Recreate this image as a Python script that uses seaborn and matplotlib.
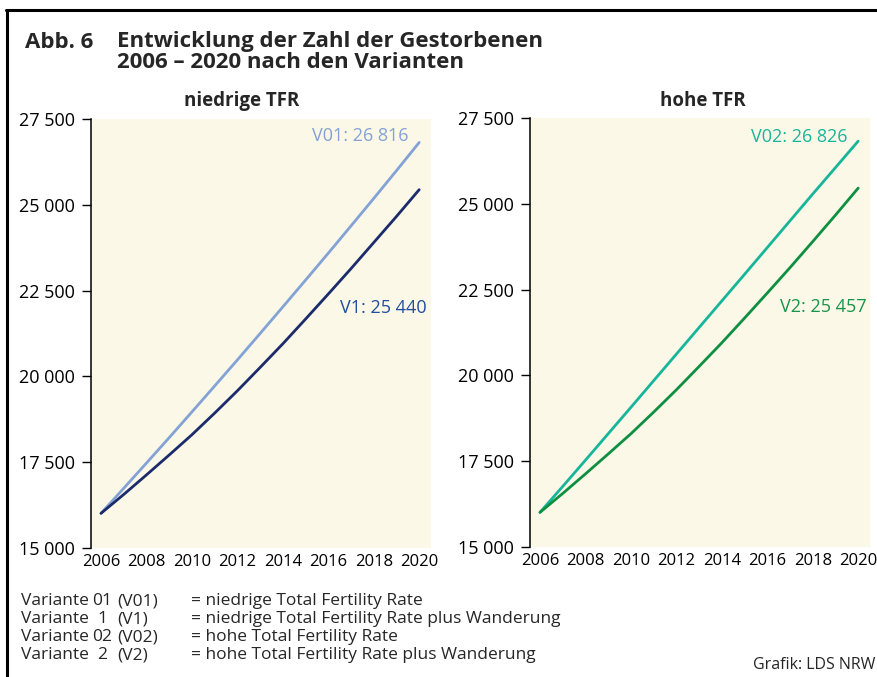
import matplotlib
matplotlib.use("Agg")
import matplotlib.pyplot as plt
from matplotlib.lines import Line2D
import pandas as pd
import seaborn as sns

# Data (Gestorbene je Jahr)
years = list(range(2006, 2021))
v01 = [16010, 16740, 17475, 18215, 18965, 19720, 20480, 21250, 22025, 22805, 23590, 24385, 25185, 25995, 26816]
v1 = [16010, 16560, 17130, 17710, 18300, 18930, 19580, 20260, 20950, 21670, 22400, 23140, 23900, 24660, 25440]
v02 = [16010, 16765, 17530, 18300, 19070, 19845, 20620, 21395, 22170, 22945, 23725, 24505, 25285, 26055, 26826]
v2 = [16010, 16560, 17130, 17710, 18300, 18930, 19580, 20260, 20950, 21670, 22400, 23140, 23900, 24670, 25457]

y_ticks = [15000, 17500, 20000, 22500, 25000, 27500]
x_ticks = [2006, 2008, 2010, 2012, 2014, 2016, 2018, 2020]

legend_rows = [
    ("Variante", "01", "(V01)", "= niedrige Total Fertility Rate"),
    ("Variante", "1", "(V1)", "= niedrige Total Fertility Rate plus Wanderung"),
    ("Variante", "02", "(V02)", "= hohe Total Fertility Rate"),
    ("Variante", "2", "(V2)", "= hohe Total Fertility Rate plus Wanderung"),
]


def fmt(v):
    return f"{v:,}".replace(",", " ")


sns.set_style("ticks")
plt.rcParams["font.family"] = ["Open Sans", "DejaVu Sans"]

W, H = 877, 677
fig = plt.figure(figsize=(W / 100, H / 100), dpi=100)


def fx(x):
    return x / W


def fy(y):
    return 1 - y / H


panels = [
    dict(title="niedrige TFR", title_x=242, left=91, top=119, names=["V01", "V1"], values=[v01, v1],
         line_colors=["#83a2d6", "#1b2b6c"], text_colors=["#83a2d6", "#1f4f9e"],
         offsets=[(-11, 6), (7, -118)]),
    dict(title="hohe TFR", title_x=703, left=530, top=118, names=["V02", "V2"], values=[v02, v2],
         line_colors=["#17b69a", "#0f8f42"], text_colors=["#17b69a", "#17944a"],
         offsets=[(-11, 4), (8, -119)]),
]

for p in panels:
    ax = fig.add_axes([fx(p["left"]), fy(p["top"] + 429), fx(340), 429 / H])
    df = pd.DataFrame({
        "Jahr": years * 2,
        "Gestorbene": p["values"][0] + p["values"][1],
        "Variante": [p["names"][0]] * len(years) + [p["names"][1]] * len(years),
    })
    sns.lineplot(data=df, x="Jahr", y="Gestorbene", hue="Variante",
                 palette=dict(zip(p["names"], p["line_colors"])),
                 linewidth=2.0, legend=False, ax=ax)
    ax.set_facecolor("#fcf8e8")
    ax.set_xlim(2005.56, 2020.52)
    ax.set_ylim(15000, 27500)
    ax.set_xticks(x_ticks, [str(t) for t in x_ticks])
    ax.set_yticks(y_ticks, [fmt(t) for t in y_ticks])
    ax.set_xlabel("")
    ax.set_ylabel("")
    sns.despine(ax=ax, bottom=True)
    ax.spines["left"].set_linewidth(1.1)
    ax.spines["left"].set_color("black")
    ax.tick_params(axis="x", length=0, pad=4, labelsize=12, colors="black")
    ax.tick_params(axis="y", length=6.5, width=1, pad=5, labelsize=13, colors="black")
    fig.text(fx(p["title_x"]), fy(101), p["title"], fontsize=13.5, fontweight="bold",
             ha="center", va="center")

    for name, vals, col, off in zip(p["names"], p["values"], p["text_colors"], p["offsets"]):
        ax.annotate(f"{name}: {fmt(vals[-1])}", xy=(years[-1], vals[-1]),
                    xytext=off, textcoords="offset pixels",
                    ha="right", va="center", fontsize=13, color=col)

# Heading
fig.text(fx(25), fy(42), "Abb. 6", fontsize=16, fontweight="bold", va="center")
fig.text(fx(117), fy(42), "Entwicklung der Zahl der Gestorbenen", fontsize=16, fontweight="bold", va="center")
fig.text(fx(117), fy(62), "2006 – 2020 nach den Varianten", fontsize=16, fontweight="bold", va="center")

# Notes
row_y = [601, 619, 637, 655]
for (word, num, short, desc), y in zip(legend_rows, row_y):
    fig.text(fx(21), fy(y), word, fontsize=12.5, va="center")
    fig.text(fx(102), fy(y), num, fontsize=12.5, va="center", ha="center")
    fig.text(fx(117), fy(y), short, fontsize=12.5, va="center")
    fig.text(fx(191), fy(y), desc, fontsize=12.5, va="center")

fig.text(fx(875), fy(665), "Grafik: LDS NRW", fontsize=11.5, ha="right", va="center")

# Frame
fig.add_artist(Line2D([fx(7), fx(7)], [fy(10), fy(677)], color="black", linewidth=2.2))
fig.add_artist(Line2D([fx(6), fx(877)], [fy(10), fy(10)], color="black", linewidth=2.2))

fig.savefig("out.png", dpi=100)
